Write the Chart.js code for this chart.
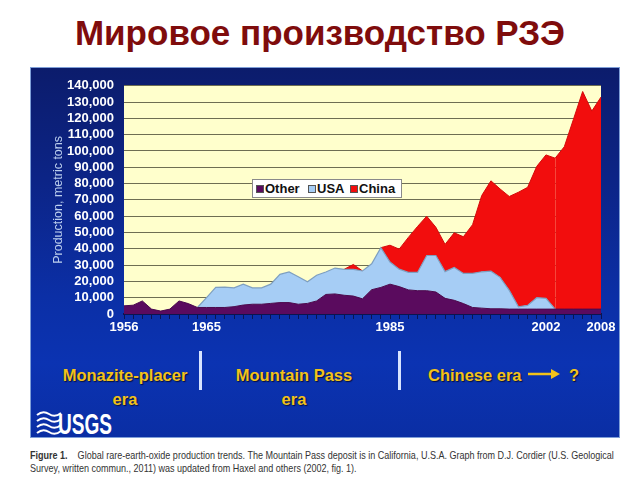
<!DOCTYPE html>
<html>
<head>
<meta charset="utf-8">
<script src="https://cdn.jsdelivr.net/npm/chart.js@4.4.1/dist/chart.umd.min.js"></script>
<style>
  body { margin:0; width:640px; height:480px; background:#fff; position:relative; overflow:hidden; font-family:"Liberation Sans", Arial, sans-serif; }
  #title { position:absolute; left:0; width:640px; top:13px; text-align:center; font-weight:bold; font-size:35px; color:#7f0c0c; }
  #panel { position:absolute; left:30px; top:67px; width:588px; height:369px; border:1px solid #7f9fd8;
    background:linear-gradient(180deg,#0c1c6c 0%,#0c2486 30%,#0b2fa6 62%,#0b33b2 80%,#0a2ea4 100%); overflow:hidden; }
  #panel canvas { position:absolute; left:0; top:0; }
  #legend { position:absolute; left:221px; top:111px; width:148px; height:17px; background:#ffffff; border:1px solid #8a8a8a;
    font-weight:bold; font-size:13px; color:#111; line-height:17px; white-space:nowrap; }
  #legend span { position:absolute; top:0; }
  #legend span.sw { width:6px; height:6px; top:5px; border:1px solid #555; }
  .era { position:absolute; color:#f2c21a; font-weight:bold; font-size:16.5px; line-height:24px; text-align:center; text-shadow:1px 1px 1px #051040; }
  .sep { position:absolute; width:3px; height:39px; top:283px; background:#d8e4ff; }
  #usgs { position:absolute; left:4px; top:338px; }
  #caption { position:absolute; left:30px; top:449px; font-size:11px; line-height:12.5px; color:#333; white-space:nowrap;
    transform:scaleX(0.82); transform-origin:0 0; }
</style>
</head>
<body>
<div id="title">Мировое производство РЗЭ</div>
<div id="panel">
  <canvas id="chart" width="588" height="270"></canvas>
  <div id="legend">
    <span class="sw" style="left:3px;background:#5a0b5e"></span><span style="left:12px">Other</span>
    <span class="sw" style="left:55px;background:#a6cdf5"></span><span style="left:64px">USA</span>
    <span class="sw" style="left:97px;background:#f20d0d"></span><span style="left:106px">China</span>
  </div>
  <div class="era" style="left:22px;top:295px;width:144px;">Monazite-placer<br>era</div>
  <div class="sep" style="left:168px;"></div>
  <div class="era" style="left:191px;top:295px;width:144px;">Mountain Pass<br>era</div>
  <div class="sep" style="left:367px;"></div>
  <div class="era" style="left:397px;top:295px;white-space:nowrap;">Chinese era</div>
  <svg style="position:absolute;left:496px;top:299px" width="34" height="14">
    <line x1="1" y1="7" x2="26" y2="7" stroke="#f2c21a" stroke-width="2.5"/>
    <polygon points="24,2 33,7 24,12" fill="#f2c21a"/>
  </svg>
  <div class="era" style="left:538px;top:295px;">?</div>
  <svg id="usgs" width="110" height="30">
    <g stroke="#fff" stroke-width="2" fill="none">
      <path d="M2 9 Q8 4 14 8 T26 7"/>
      <path d="M2 15 Q8 10 14 14 T26 13"/>
      <path d="M2 21 Q8 16 14 20 T26 19"/>
      <path d="M2 27 Q8 22 14 26 T26 25"/>
    </g>
    <text x="23" y="28" fill="#fff" font-family="Liberation Sans, Arial" font-weight="bold" font-size="29" textLength="54" lengthAdjust="spacingAndGlyphs">USGS</text>
  </svg>
</div>
<div id="caption"><b>Figure 1.</b>&nbsp;&nbsp;&nbsp;&nbsp;Global rare-earth-oxide production trends. The Mountain Pass deposit is in California, U.S.A. Graph from D.J. Cordier (U.S. Geological<br>Survey, written commun., 2011) was updated from Haxel and others (2002, fig. 1).</div>

<script>
// годы и добыча, метрические тонны
const years = [1956,1957,1958,1959,1960,1961,1962,1963,1964,1965,1966,1967,1968,1969,1970,1971,1972,1973,1974,1975,1976,1977,1978,1979,1980,1981,1982,1983,1984,1985,1986,1987,1988,1989,1990,1991,1992,1993,1994,1995,1996,1997,1998,1999,2000,2001,2002,2003,2004,2005,2006,2007,2008];
const other = [5000,5400,8000,3000,1800,3000,8000,6400,4000,4000,4000,4000,4500,5500,6000,6000,6500,7000,7000,6000,6500,8000,12000,12300,11500,11000,9300,14900,16300,18300,16800,14800,14300,14300,13500,9600,8400,6400,4000,3600,3200,3200,3000,3000,3000,3000,3000,3000,3000,3000,3000,3000,3000];
const usa = [0,0,0,0,0,0,0,0,0,6000,12300,12500,11500,12800,10000,10000,11800,17300,18800,16800,13300,15800,13800,15900,15900,16400,17100,15900,24400,13600,10700,10700,11200,21600,22400,16400,20100,18500,20900,22300,23100,19300,11500,1400,2300,7000,6600,0,0,0,0,0,0];
const china = [0,0,0,0,0,0,0,0,0,0,0,0,0,0,0,0,0,0,0,0,0,0,0,0,0,3000,0,0,0,10300,12300,21500,28200,24100,17300,16700,21300,22500,29900,46800,55400,54200,57600,70300,72400,80600,88000,92600,99600,116500,133500,121500,130100];
const yearTicks = [1956,1965,1985,2002,2008];

const tickFont = {family:'Liberation Sans, Arial, sans-serif', size:13, weight:'bold'};

const plotBg = {
  id:'plotBg',
  beforeDraw(chart){
    const {ctx, chartArea:a} = chart;
    ctx.save(); ctx.fillStyle = '#ffffcc'; ctx.fillRect(a.left, a.top, a.right - a.left, a.bottom - a.top); ctx.restore();
  }
};

// скрыть линию там, где ряд нулевой
const hideZero = data => ({borderColor: c => (data[c.p0DataIndex] === 0 && data[c.p1DataIndex] === 0) ? 'rgba(0,0,0,0)' : undefined});

new Chart(document.getElementById('chart'), {
  type:'line',
  data:{
    labels: years,
    datasets:[
      {label:'Other', data: other, backgroundColor:'#5a0b5e', borderColor:'#4a0a4e', borderWidth:1, fill:'origin', pointRadius:0, tension:0},
      {label:'USA', data: usa, backgroundColor:'#a6cdf5', borderColor:'#7e9fc0', borderWidth:1.2, fill:'-1', pointRadius:0, tension:0, segment: hideZero(usa)},
      {label:'China', data: china, backgroundColor:'#f20d0d', borderColor:'#d40a0a', borderWidth:1, fill:'-1', pointRadius:0, tension:0, segment: hideZero(china)}
    ]
  },
  options:{
    responsive:false, animation:false,
    layout:{padding:{left:0, right:18, top:11, bottom:0}},
    plugins:{legend:{display:false}, tooltip:{enabled:false}},
    scales:{
      x:{
        stacked:true,
        grid:{drawOnChartArea:false, drawTicks:true, tickLength:5, color:'#0a1450'},
        border:{display:true, color:'#0a1450', width:2},
        ticks:{autoSkip:false, maxRotation:0, color:'#fff', font:tickFont, padding:1,
          callback(v){ const y = this.getLabelForValue(v); return yearTicks.includes(+y) ? String(y) : ''; }},
        afterFit(s){ s.height = 24; }
      },
      y:{
        stacked:true, min:0, max:140000,
        grid:{color:'#6e6e52', lineWidth:1, drawTicks:false},
        border:{display:false},
        ticks:{stepSize:10000, autoSkip:false, color:'#fff', font:tickFont, padding:10, callback: v => v.toLocaleString('en-US')},
        title:{display:true, text:'Production, metric tons', color:'#bccfee', font:{family:'Liberation Sans, Arial, sans-serif', size:12.5}, padding:{top:20, bottom:0}},
        afterFit(s){ s.width = 93; }
      }
    }
  },
  plugins:[plotBg]
});
</script>
</body>
</html>
